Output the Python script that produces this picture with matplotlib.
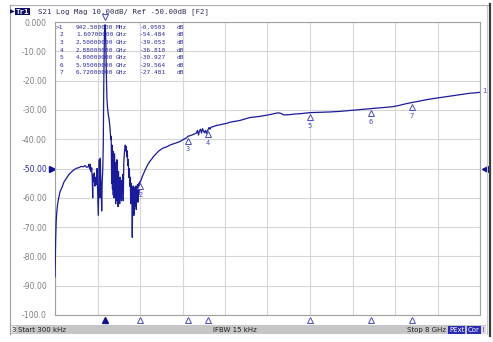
import matplotlib
matplotlib.use('Agg')
import matplotlib.pyplot as plt
from matplotlib.patches import Rectangle
from matplotlib.lines import Line2D
import matplotlib.transforms as mtransforms

W, H = 493, 342

# ---------------- data ----------------
freq_ghz = [
    0.0003, 0.006, 0.013, 0.023, 0.032, 0.047, 0.062, 0.094, 0.126, 0.169,
    0.220, 0.264, 0.314, 0.358, 0.408, 0.452, 0.489, 0.533, 0.565, 0.597,
    0.627, 0.640, 0.653, 0.664, 0.678, 0.691, 0.702, 0.710, 0.715, 0.728,
    0.740, 0.753, 0.766, 0.777, 0.791, 0.804, 0.815, 0.824, 0.834, 0.843,
    0.853, 0.862, 0.872, 0.879, 0.888, 0.900, 0.909, 0.919, 0.930, 0.9425,
    0.948, 0.958, 0.967, 0.977, 0.988, 1.003, 1.016, 1.030, 1.041, 1.050,
    1.058, 1.067, 1.075, 1.082, 1.090, 1.097, 1.105, 1.112, 1.120, 1.128,
    1.135, 1.142, 1.150, 1.157, 1.165, 1.173, 1.180, 1.188, 1.195, 1.203,
    1.210, 1.218, 1.225, 1.233, 1.242, 1.252, 1.261, 1.271, 1.280, 1.286,
    1.295, 1.305, 1.314, 1.323, 1.333, 1.342, 1.352, 1.361, 1.370, 1.380,
    1.389, 1.399, 1.408, 1.417, 1.425, 1.433, 1.440, 1.448, 1.455, 1.463,
    1.470, 1.478, 1.486, 1.493, 1.501, 1.508, 1.515, 1.523, 1.530, 1.538,
    1.545, 1.553, 1.560, 1.568, 1.576, 1.583, 1.591, 1.598, 1.607, 1.619,
    1.638, 1.657, 1.675, 1.700, 1.726, 1.756, 1.788, 1.820, 1.850, 1.882,
    1.914, 1.944, 1.976, 2.038, 2.102, 2.165, 2.227, 2.291, 2.353, 2.415,
    2.479, 2.500, 2.541, 2.603, 2.654, 2.682, 2.701, 2.720, 2.739, 2.758,
    2.777, 2.795, 2.814, 2.833, 2.852, 2.880, 2.899, 2.918, 2.936, 2.980,
    3.044, 3.106, 3.168, 3.232, 3.294, 3.356, 3.420, 3.482, 3.576, 3.671,
    3.765, 3.859, 3.953, 4.047, 4.141, 4.203, 4.254, 4.301, 4.348, 4.424,
    4.518, 4.612, 4.706, 4.800, 4.988, 5.176, 5.365, 5.553, 5.741, 5.950,
    6.118, 6.362, 6.494, 6.607, 6.720, 6.833, 6.965, 7.097, 7.247, 7.435,
    7.624, 7.812, 7.906, 8.000,
]
s21_db = [
    -87.0, -82.0, -74.0, -68.0, -65.2, -62.5, -60.8, -58.0, -56.7, -54.6,
    -53.2, -52.0, -51.1, -50.4, -49.9, -49.7, -49.3, -49.4, -49.0, -49.6,
    -49.4, -48.5, -50.2, -48.6, -51.0, -49.8, -53.5, -60.0, -52.0, -54.5,
    -51.5, -56.0, -53.0, -55.5, -50.0, -58.0, -66.0, -56.0, -47.0, -60.0,
    -46.5, -54.0, -58.0, -64.5, -55.0, -50.0, -42.0, -20.0, -5.0, -0.95,
    -1.5, -8.0, -18.0, -26.0, -29.0, -31.5, -33.0, -35.0, -37.5, -40.0,
    -39.0, -55.0, -42.0, -57.0, -44.0, -59.0, -46.0, -60.0, -45.0, -56.0,
    -48.0, -62.0, -50.0, -58.0, -47.0, -61.0, -52.0, -63.0, -51.0, -59.0,
    -54.0, -62.0, -53.0, -60.0, -55.0, -61.0, -54.0, -58.0, -52.0, -61.0,
    -48.0, -45.0, -43.5, -42.0, -44.0, -42.5, -46.0, -44.0, -49.0, -47.0,
    -53.0, -50.0, -56.0, -53.0, -62.0, -55.0, -60.0, -56.0, -73.5, -57.0,
    -64.0, -56.0, -66.0, -57.0, -63.0, -56.5, -61.0, -56.0, -64.0, -57.0,
    -60.0, -55.5, -61.5, -56.0, -59.0, -55.0, -57.5, -54.5, -54.48, -54.0,
    -53.0, -52.2, -51.5, -50.4, -49.4, -48.4, -47.5, -46.8, -46.0, -45.4,
    -44.8, -44.2, -43.7, -43.0, -42.6, -42.0, -41.6, -41.2, -40.8, -40.1,
    -39.5, -39.05, -38.8, -38.4, -38.0, -37.0, -38.6, -37.2, -36.6, -37.9,
    -36.4, -37.2, -37.8, -37.0, -38.0, -36.81, -36.0, -36.6, -35.9, -35.7,
    -35.3, -35.1, -34.8, -34.6, -34.2, -34.0, -33.8, -33.6, -33.1, -32.6,
    -32.4, -32.2, -31.9, -31.6, -31.2, -31.0, -31.2, -31.7, -31.7, -31.6,
    -31.4, -31.3, -31.1, -30.93, -30.8, -30.7, -30.5, -30.2, -29.9, -29.56,
    -29.3, -28.9, -28.4, -27.9, -27.48, -27.1, -26.6, -26.2, -25.8, -25.3,
    -24.8, -24.3, -24.2, -24.0,
]

y_ticks = [0, -10, -20, -30, -40, -50, -60, -70, -80, -90, -100]
y_tick_labels = ["0.000", "-10.00", "-20.00", "-30.00", "-40.00", "-50.00",
                 "-60.00", "-70.00", "-80.00", "-90.00", "-100.0"]
ref_level_db = -50.0
start_ghz, stop_ghz = 0.0003, 8.0

marker_ids = ["1", "2", "3", "4", "5", "6", "7"]
marker_freq_ghz = [0.9425, 1.607, 2.5, 2.88, 4.8, 5.95, 6.72]
marker_db = [-0.9503, -54.484, -39.053, -36.810, -30.927, -29.564, -27.481]
marker_freq_text = ["942.500000", "1.60700000", "2.50000000", "2.88000000",
                    "4.80000000", "5.95000000", "6.72000000"]
marker_unit_text = ["MHz", "GHz", "GHz", "GHz", "GHz", "GHz", "GHz"]
marker_val_text = ["-0.9503", "-54.484", "-39.053", "-36.810",
                   "-30.927", "-29.564", "-27.481"]

header_text = "S21 Log Mag 10.00dB/ Ref -50.00dB [F2]"
status_start = "Start 300 kHz"
status_ifbw = "IFBW 15 kHz"
status_stop = "Stop 8 GHz"

# ---------------- styling ----------------
TRACE = '#1a1a9c'
MK = '#4a4ac8'
GRID = '#d6d6d6'
MONO = 'DejaVu Sans Mono'


def fx(x):
    return x / W


def fy(y):
    return 1 - y / H


fig = plt.figure(figsize=(W / 100, H / 100), dpi=100)
fig.patch.set_facecolor('white')

ax = fig.add_axes([fx(55), fy(315), (480 - 55) / W, (315 - 22) / H])
ax.set_xlim(start_ghz, stop_ghz)
ax.set_ylim(-100, 0)
xt = [start_ghz + i * (stop_ghz - start_ghz) / 10 for i in range(11)]
ax.set_xticks(xt)
ax.set_xticklabels([])
ax.tick_params(axis='x', length=0)
ax.set_yticks(y_ticks)
ax.set_yticklabels(y_tick_labels, fontsize=5.6, family='DejaVu Sans')
ax.tick_params(axis='y', length=0, pad=5.8, colors='#808080')
for lbl, v in zip(ax.get_yticklabels(), y_ticks):
    if v == ref_level_db:
        lbl.set_color('#2a2aa8')
ax.grid(True, color=GRID, lw=0.8)
ax.set_axisbelow(True)
for s in ax.spines.values():
    s.set_color('#a0a0a0')
    s.set_linewidth(0.8)

ax.plot(freq_ghz, s21_db, color=TRACE, lw=0.9, zorder=3)

# markers on trace
for mid, f, v in zip(marker_ids[1:], marker_freq_ghz[1:], marker_db[1:]):
    tr = mtransforms.offset_copy(ax.transData, fig=fig, x=0, y=-4.5, units='dots')
    ax.plot([f], [v], marker='^', ms=5, mfc='white', mec=MK, mew=0.7,
            transform=tr, zorder=4)
    tr2 = mtransforms.offset_copy(ax.transData, fig=fig, x=0, y=-13, units='dots')
    ax.text(f, v, mid, transform=tr2, ha='center', va='center',
            fontsize=5, color=MK, family=MONO, zorder=4)

# marker 1 at the peak (above the top edge)
trp = mtransforms.offset_copy(
    mtransforms.blended_transform_factory(ax.transData, ax.transAxes),
    fig=fig, x=0, y=5, units='dots')
ax.plot([marker_freq_ghz[0]], [1.0], marker='v', ms=5, mfc='white', mec=MK,
        mew=0.7, transform=trp, clip_on=False, zorder=5)

# end-of-trace label
tre = mtransforms.offset_copy(ax.transData, fig=fig, x=2, y=1, units='dots')
ax.text(freq_ghz[-1], s21_db[-1], "1", transform=tre, ha='left', va='center',
        fontsize=5, color=MK, family=MONO, clip_on=False)

# marker triangles under the x axis
bt = mtransforms.offset_copy(
    mtransforms.blended_transform_factory(ax.transData, ax.transAxes),
    fig=fig, x=0, y=-5, units='dots')
for i, f in enumerate(marker_freq_ghz):
    if i == 0:
        ax.plot([f], [0], marker='^', ms=5, mfc='#10109a', mec='#10109a',
                transform=bt, clip_on=False, zorder=5)
    else:
        ax.plot([f], [0], marker='^', ms=5, mfc='white', mec=MK, mew=0.7,
                transform=bt, clip_on=False, zorder=5)

# reference-level triangles
lt = mtransforms.offset_copy(
    mtransforms.blended_transform_factory(ax.transAxes, ax.transData),
    fig=fig, x=-3.5, y=0, units='dots')
ax.plot([0], [ref_level_db], marker='>', ms=5, color='#10109a',
        transform=lt, clip_on=False)
rt = mtransforms.offset_copy(
    mtransforms.blended_transform_factory(ax.transAxes, ax.transData),
    fig=fig, x=4.5, y=0, units='dots')
ax.plot([1], [ref_level_db], marker='<', ms=5, color='#10109a',
        transform=rt, clip_on=False)

# marker table
for i in range(len(marker_ids)):
    yy = fy(27.3 + i * 7.6)
    idx = (">" if i == 0 else "") + marker_ids[i]
    kw = dict(fontsize=4.4, color='#2a2aa0', family=MONO, va='center')
    fig.text(fx(63.5), yy, idx, ha='right', **kw)
    fig.text(fx(76), yy, marker_freq_text[i], ha='left', **kw)
    fig.text(fx(116), yy, marker_unit_text[i], ha='left', **kw)
    fig.text(fx(140), yy, marker_val_text[i], ha='left', **kw)
    fig.text(fx(177), yy, "dB", ha='left', **kw)

# ---------------- instrument frame ----------------
fig.add_artist(Line2D([fx(10), fx(489)], [fy(5), fy(5)], color='#b0b0b0', lw=0.8))
fig.add_artist(Line2D([fx(10), fx(10)], [fy(5), fy(334)], color='#a0a0a0', lw=0.8))
fig.add_artist(Line2D([fx(489.5), fx(489.5)], [fy(4), fy(336)], color='#3c3c3c', lw=1.6))
fig.add_artist(Line2D([fx(487), fx(487)], [fy(6), fy(334)], color='#c8c8c8', lw=0.8))

# header
fig.text(fx(12.5), fy(11.5), "\u25B6", fontsize=4.5, color='#10106a',
         ha='center', va='center')
fig.text(fx(16), fy(11.5), "Tr1", fontsize=5.3, color='white', family=MONO,
         fontweight='bold', ha='left', va='center',
         bbox=dict(facecolor='#10106a', edgecolor='none', pad=0.5))
fig.text(fx(38), fy(11.5), header_text, fontsize=5.35, color='#2c2c58',
         family=MONO, ha='left', va='center')

# status bar
fig.add_artist(Rectangle((fx(10), fy(334)), fx(486) - fx(10), (334 - 325) / H,
                         facecolor='#c6c6c6', edgecolor='none'))
sb_y = fy(329.8)
fig.text(fx(13.5), sb_y, "3", fontsize=5, color='#202020', ha='center', va='center',
         bbox=dict(facecolor='#e6e6e6', edgecolor='none', pad=0.3))
fig.text(fx(18), sb_y, status_start, fontsize=5, color='#202020', ha='left', va='center')
fig.text(fx(235), sb_y, status_ifbw, fontsize=5, color='#202020', ha='center', va='center')
fig.text(fx(407), sb_y, status_stop, fontsize=5, color='#202020', ha='left', va='center')
fig.text(fx(449), sb_y, "PExt", fontsize=5, color='white', ha='left', va='center',
         bbox=dict(facecolor='#2a2ab8', edgecolor='none', pad=0.6))
fig.text(fx(468), sb_y, "Cor", fontsize=5, color='white', ha='left', va='center',
         bbox=dict(facecolor='#2a2ab8', edgecolor='none', pad=0.6))
fig.text(fx(483.5), sb_y, "!", fontsize=5, color='#404040', ha='center', va='center',
         bbox=dict(facecolor='#e0e0e0', edgecolor='none', pad=0.6))

fig.savefig('out.png', dpi=100)
